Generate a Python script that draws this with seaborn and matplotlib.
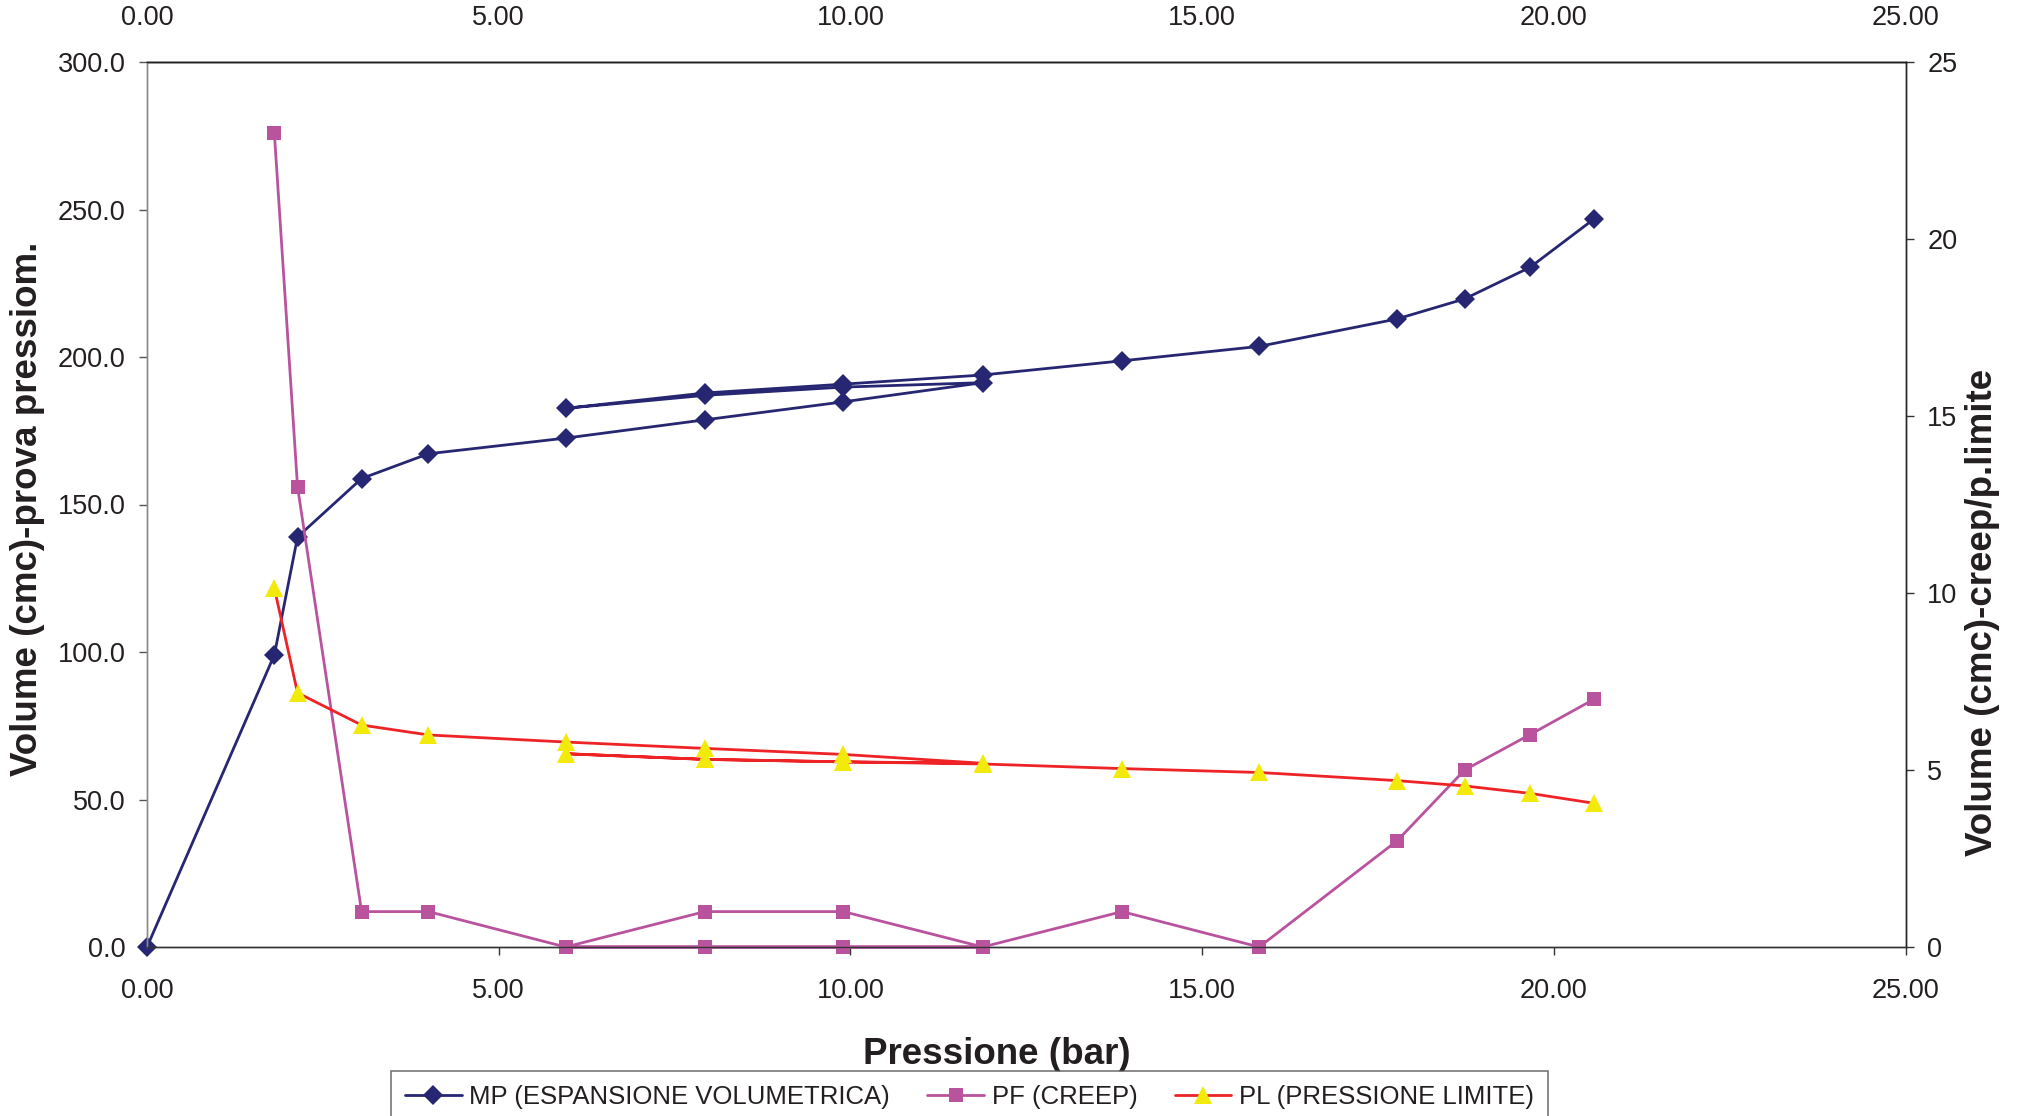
import matplotlib
matplotlib.use("Agg")
import matplotlib.pyplot as plt
import matplotlib.ticker as mticker
import seaborn as sns
import pandas as pd

# ---- data ----
pressure_mp = [0.00, 1.81, 2.14, 3.05, 4.00, 5.95, 7.93, 9.90, 11.88, 9.90, 7.93, 5.95,
               7.93, 9.90, 11.88, 13.86, 15.81, 17.77, 18.73, 19.66, 20.57]
volume_mp = [0.0, 99.0, 139.0, 158.8, 167.2, 172.5, 178.7, 184.8, 191.3, 189.8, 187.0, 182.6,
             187.8, 190.8, 193.9, 198.7, 203.6, 212.9, 219.7, 230.4, 246.8]

pressure_cl = [1.81, 2.14, 3.05, 4.00, 5.95, 7.93, 9.90, 11.88, 9.90, 7.93, 5.95,
               7.93, 9.90, 11.88, 13.86, 15.81, 17.77, 18.73, 19.66, 20.57]
creep_pf = [23, 13, 1, 1, 0, 1, 1, 0, 0, 0, 0,
            0, 0, 0, 1, 0, 3, 5, 6, 7]
limit_pl = [10.14, 7.18, 6.27, 5.99, 5.79, 5.61, 5.44, 5.19, 5.23, 5.30, 5.46,
            5.30, 5.23, 5.17, 5.04, 4.93, 4.70, 4.55, 4.34, 4.06]

label_mp = "MP (ESPANSIONE VOLUMETRICA)"
label_pf = "PF (CREEP)"
label_pl = "PL (PRESSIONE LIMITE)"

xticks = [0, 5, 10, 15, 20, 25]
yticks_left = [0, 50, 100, 150, 200, 250, 300]
yticks_right = [0, 5, 10, 15, 20, 25]

# ---- styling ----
sns.set_theme(style="white")
plt.rcParams["font.family"] = ["Liberation Sans", "DejaVu Sans"]

W, H = 2022, 1116
fig = plt.figure(figsize=(W / 100, H / 100), dpi=100)
L, R, T, B = 147, 1905.7, 62, 947
ax = fig.add_axes([L / W, 1 - B / H, (R - L) / W, (B - T) / H])
ax2 = ax.twinx()

navy = "#262672"
pink = "#BA539E"
red = "#EE2326"
yellow = "#F3EA0C"
txt = "#231F20"

df_mp = pd.DataFrame({"p": pressure_mp, "v": volume_mp})
df_cl = pd.DataFrame({"p": pressure_cl, "pf": creep_pf, "pl": limit_pl})

sns.lineplot(data=df_mp, x="p", y="v", ax=ax, sort=False, estimator=None,
             color=navy, linewidth=2.0, marker="D", markersize=10,
             markeredgecolor=navy, markerfacecolor=navy, markeredgewidth=0,
             label=label_mp, clip_on=False)
sns.lineplot(data=df_cl, x="p", y="pf", ax=ax2, sort=False, estimator=None,
             color=pink, linewidth=2.0, marker="s", markersize=10.5,
             markeredgecolor=pink, markerfacecolor=pink, markeredgewidth=0,
             label=label_pf, clip_on=False)
sns.lineplot(data=df_cl, x="p", y="pl", ax=ax2, sort=False, estimator=None,
             color=red, linewidth=2.0, marker="^", markersize=12.5,
             markeredgecolor=yellow, markerfacecolor=yellow, markeredgewidth=0,
             label=label_pl, clip_on=False)

for a in (ax, ax2):
    lg = a.get_legend()
    if lg is not None:
        lg.remove()

ax.set_xlim(0, 25)
ax.set_ylim(0, 300)
ax2.set_ylim(0, 25)
ax.set_xticks(xticks)
ax.set_yticks(yticks_left)
ax2.set_yticks(yticks_right)
ax.xaxis.set_major_formatter(mticker.FormatStrFormatter("%.2f"))
ax.yaxis.set_major_formatter(mticker.FormatStrFormatter("%.1f"))
ax2.yaxis.set_major_formatter(mticker.FormatStrFormatter("%d"))

fs_tick = 19.5
ax.tick_params(axis="x", which="major", bottom=True, top=False, direction="out",
               length=6, width=1, color="#333333", labelsize=fs_tick,
               labelcolor=txt, pad=16)
ax.tick_params(axis="y", which="major", left=True, direction="out", length=6,
               width=1, color="#555555", labelsize=fs_tick, labelcolor=txt, pad=9.5)
ax2.tick_params(axis="y", which="major", right=True, direction="out", length=6,
                width=1, color="#333333", labelsize=fs_tick, labelcolor=txt, pad=9.5)

top = ax.secondary_xaxis("top")
top.set_xticks(xticks)
top.xaxis.set_major_formatter(mticker.FormatStrFormatter("%.2f"))
top.tick_params(axis="x", length=0, labelsize=fs_tick, labelcolor=txt, pad=22)
top.spines["top"].set_color("#222222")
top.spines["top"].set_linewidth(1.0)

for a in (ax, ax2):
    a.spines["left"].set_color("#8a8a8a")
    a.spines["bottom"].set_color("#333333")
    a.spines["right"].set_color("#222222")
    a.spines["top"].set_color("#222222")
    for s in a.spines.values():
        s.set_linewidth(1.0)
        s.set_visible(True)

fs_lab = 26.5
ax.set_xlabel("Pressione (bar)", fontsize=fs_lab, fontweight="bold", color=txt)
ax.xaxis.set_label_coords((997 - L) / (R - L), (B - 1055) / (B - T))
ax.xaxis.label.set_va("center")
ax.set_ylabel("Volume (cmc)-prova pressiom.", fontsize=fs_lab, fontweight="bold", color=txt)
ax.yaxis.set_label_coords((28 - L) / (R - L), (B - 509) / (B - T))
ax.yaxis.label.set_va("center")
ax2.set_ylabel("Volume (cmc)-creep/p.limite", fontsize=fs_lab, fontweight="bold",
               color=txt, rotation=90)
ax2.yaxis.set_label_coords((1982 - L) / (R - L), (B - 612) / (B - T))
ax2.yaxis.label.set_va("center")

h1, l1 = ax.get_legend_handles_labels()
h2, l2 = ax2.get_legend_handles_labels()
leg = fig.legend(h1 + h2, l1 + l2, loc="upper left",
                 bbox_to_anchor=(391 / W, 1 - 1071 / H), ncol=3,
                 frameon=True, fancybox=False, shadow=False, fontsize=18.5,
                 borderpad=0.55, borderaxespad=0, handlelength=2.2,
                 handletextpad=0.3, columnspacing=1.45)
leg.get_frame().set_edgecolor("#555555")
leg.get_frame().set_linewidth(1.2)
for t in leg.get_texts():
    t.set_color(txt)

fig.savefig("out.png", dpi=100)
